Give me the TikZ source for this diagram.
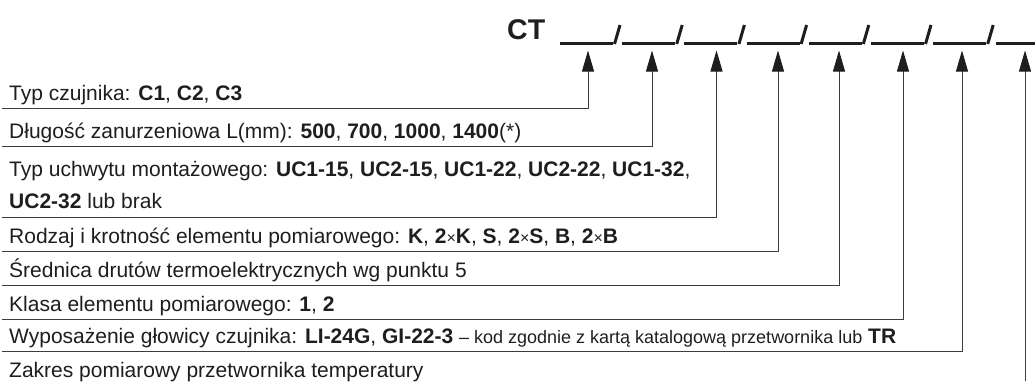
\documentclass[tikz,border=0pt]{standalone}
\usepackage{fontspec}
\setmainfont{Liberation Sans}
\usetikzlibrary{arrows.meta}
\definecolor{inkgray}{HTML}{1E1E1E}
\definecolor{linegray}{HTML}{3C3C3C}
\newcommand{\mul}{{\fontsize{16}{16}\selectfont×}}
\tikzset{
  item/.style={anchor=base west, inner sep=0pt, text=inkgray},
  pointer/.style={draw=linegray, line width=1pt,
    -{Triangle[length=21pt,width=12pt,color=inkgray]}},
  blank/.style={draw=inkgray, line width=2.6pt},
}
\begin{document}
\begin{tikzpicture}[x=1pt,y=-1pt,font=\fontsize{21}{24}\selectfont]
    \useasboundingbox (0,0) rectangle (1035,381);
    % code
    \node[item, font=\fontsize{28.5}{30}\selectfont\bfseries] (CT) at (507,39) {CT};
    \foreach \i in {0,...,6}{
        \draw[blank] ({560+62.2*\i},43.5) -- ++(53,0);
        \draw[blank, line width=3pt] ({614.5+62.2*\i},44) -- ++(5.5,-19);
    }
    \draw[blank] (995.5,43.5) -- (1035,43.5);
    % arrow tips under the blanks
    \coordinate (p1) at (588,50.5);
    \coordinate (p2) at (652,50.5);
    \coordinate (p3) at (716.5,50.5);
    \coordinate (p4) at (778,50.5);
    \coordinate (p5) at (839,50.5);
    \coordinate (p6) at (903,50.5);
    \coordinate (p7) at (962,50.5);
    \coordinate (p8) at (1025,50.5);
    % rows
    \node[item] (t1) at (9,100) {Typ czujnika: \textbf{C1}, \textbf{C2}, \textbf{C3}};
    \node[item] (t2) at (9,138) {Długość zanurzeniowa L(mm): \textbf{500}, \textbf{700}, \textbf{1000}, \textbf{1400}(*)};
    \node[item] (t3) at (9,176) {Typ uchwytu montażowego: \textbf{UC1-15}, \textbf{UC2-15}, \textbf{UC1-22}, \textbf{UC2-22}, \textbf{UC1-32},};
    \node[item] (t3b) at (9,208) {\textbf{UC2-32} lub brak};
    \node[item] (t4) at (9,243) {Rodzaj i krotność elementu pomiarowego: \textbf{K}, \textbf{2}\mul\textbf{K}, \textbf{S}, \textbf{2}\mul\textbf{S}, \textbf{B}, \textbf{2}\mul\textbf{B}};
    \node[item] (t5) at (9,277) {Średnica drutów termoelektrycznych wg punktu 5};
    \node[item] (t6) at (9,311) {Klasa elementu pomiarowego: \textbf{1}, \textbf{2}};
    \node[item] (t7) at (9,343) {Wyposażenie głowicy czujnika: \textbf{LI-24G}, \textbf{GI-22-3} {\fontsize{18}{20}\selectfont -- kod zgodnie z kartą katalogową przetwornika lub} \textbf{TR}};
    \node[item] (t8) at (9,377) {Zakres pomiarowy przetwornika temperatury};
    % leader lines
    \coordinate (l1) at (2,108);
    \coordinate (l2) at (2,146);
    \coordinate (l3) at (2,217);
    \coordinate (l4) at (2,251);
    \coordinate (l5) at (2,285);
    \coordinate (l6) at (2,319);
    \coordinate (l7) at (2,351);
    \coordinate (l8) at (1025,381);
    \foreach \k in {1,...,7}
        \draw[pointer] (l\k) -| (p\k);
    \draw[pointer] (l8) -- (p8);
\end{tikzpicture}
\end{document}
